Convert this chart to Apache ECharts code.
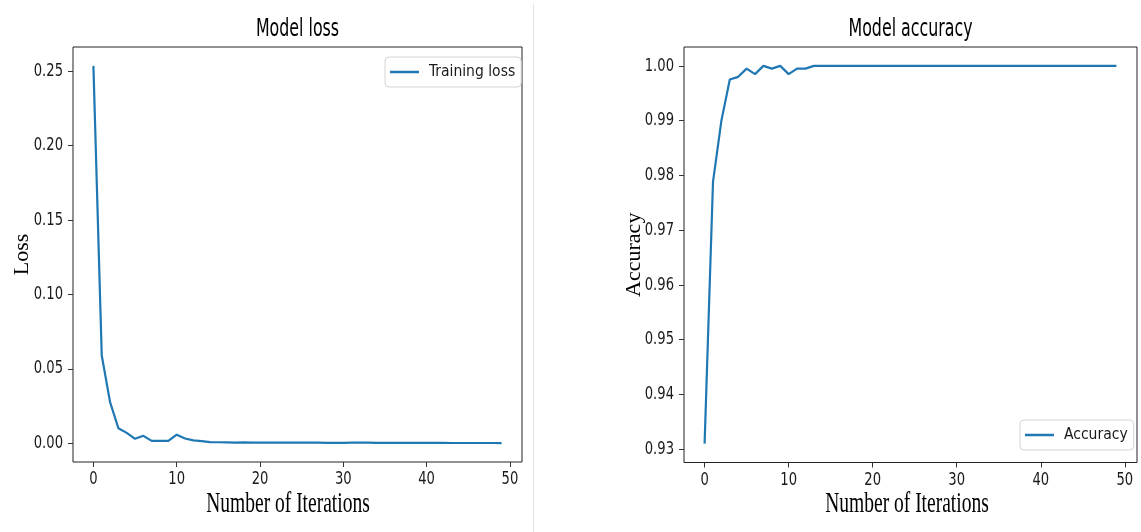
<!DOCTYPE html>
<html>
<head>
<meta charset="utf-8">
<script src="https://cdn.jsdelivr.net/npm/echarts@6/dist/echarts.min.js"></script>
<style>
  html, body { margin: 0; padding: 0; background: #fff; }
  #chart { width: 1141px; height: 532px; }
</style>
</head>
<body>
<div id="chart"></div>
<script>
// Training history over 50 iterations
const iterations = Array.from({ length: 50 }, (_, i) => i);

const trainingLoss = [
  0.2534, 0.0589, 0.0276, 0.0101, 0.0070, 0.0030, 0.0050, 0.0016, 0.0016, 0.0016,
  0.0058, 0.0032, 0.0020, 0.0015, 0.0008, 0.0007, 0.0006, 0.0005, 0.0006, 0.0005,
  0.0005, 0.0005, 0.0005, 0.0005, 0.0004, 0.0004, 0.0004, 0.0004, 0.0003, 0.0003,
  0.0003, 0.0004, 0.0005, 0.0004, 0.0003, 0.0003, 0.0003, 0.0003, 0.0003, 0.0003,
  0.0003, 0.0003, 0.0003, 0.0002, 0.0002, 0.0002, 0.0002, 0.0002, 0.0002, 0.0001
];

const accuracy = [
  0.9310, 0.9788, 0.9900, 0.9975, 0.9980, 0.9995, 0.9985, 1.0000, 0.9995, 1.0000,
  0.9985, 0.9995, 0.9995, 1.0000, 1.0000, 1.0000, 1.0000, 1.0000, 1.0000, 1.0000,
  1.0000, 1.0000, 1.0000, 1.0000, 1.0000, 1.0000, 1.0000, 1.0000, 1.0000, 1.0000,
  1.0000, 1.0000, 1.0000, 1.0000, 1.0000, 1.0000, 1.0000, 1.0000, 1.0000, 1.0000,
  1.0000, 1.0000, 1.0000, 1.0000, 1.0000, 1.0000, 1.0000, 1.0000, 1.0000, 1.0000
];

const xTicks = [0, 10, 20, 30, 40, 50];
const lossTicks = [0.00, 0.05, 0.10, 0.15, 0.20, 0.25];
const accTicks = [0.93, 0.94, 0.95, 0.96, 0.97, 0.98, 0.99, 1.00];

const BLUE = '#1f77b4';
const INK = '#1a1a1a';
const SANS = '"DejaVu Sans", sans-serif';
const SANS_NARROW = '"DejaVu Sans Condensed", "DejaVu Sans", sans-serif';
const SERIF = '"Liberation Serif", "Times New Roman", serif';

// axis range padded by 5% of the data span on each side
function padded(values, frac) {
  const lo = Math.min(...values), hi = Math.max(...values);
  const pad = (hi - lo) * frac;
  return { min: lo - pad, max: hi + pad };
}
const xRange = padded(iterations, 0.05);
const lossRange = padded(trainingLoss, 0.05);
const accRange = padded(accuracy, 0.05);

const panels = [
  { yRange: lossRange, yTicks: lossTicks },
  { yRange: accRange, yTicks: accTicks }
];

function xAxisFor(gridIndex) {
  return {
    type: 'value', gridIndex,
    min: xRange.min, max: xRange.max,
    splitLine: { show: false },
    axisLine: { show: false, onZero: false },
    axisTick: { show: true, length: 5, customValues: xTicks, lineStyle: { color: '#333', width: 1 } },
    axisLabel: { show: false }
  };
}

function yAxisFor(gridIndex, range, ticks, name, gap) {
  return {
    type: 'value', gridIndex,
    min: range.min, max: range.max,
    name, nameLocation: 'middle', nameGap: gap, nameRotate: 90,
    nameTextStyle: { fontFamily: SERIF, fontSize: 22, color: '#000' },
    splitLine: { show: false },
    axisLine: { show: false, onZero: false },
    axisTick: { show: true, length: 5, customValues: ticks, lineStyle: { color: '#333', width: 1 } },
    axisLabel: { show: false }
  };
}

function legendAt(name, left, top) {
  return {
    data: [name], left, top, orient: 'horizontal',
    icon: 'rect', itemWidth: 29, itemHeight: 2.5,
    padding: [7, 6, 7, 5],
    backgroundColor: 'rgba(255,255,255,0.8)',
    borderColor: '#d4d4d4', borderWidth: 1, borderRadius: 4,
    textStyle: { fontSize: 15.5, fontFamily: SANS_NARROW, color: INK, padding: [0, 0, 0, 5] }
  };
}

// horizontally squeezed text drawn with the graphic component
function squeezedText(text, x, y, size, family, sx, align, color) {
  return {
    type: 'text', x, y, scaleX: sx, silent: true,
    style: {
      text, fontSize: size, fontFamily: family, fill: color || '#000',
      textAlign: align || 'center', textVerticalAlign: 'middle',
      align: align || 'center', verticalAlign: 'middle'
    }
  };
}

const chart = echarts.init(document.getElementById('chart'), null, { renderer: 'canvas' });

const baseGraphics = [
  { type: 'line', silent: true, shape: { x1: 533.5, y1: 4, x2: 533.5, y2: 532 }, style: { stroke: '#e4e4e4', lineWidth: 1 } },
  squeezedText('Model loss', 297.5, 29.5, 24, SANS, 0.66),
  squeezedText('Model accuracy', 910.5, 29.5, 24, SANS, 0.66),
  squeezedText('Number of Iterations', 288, 504, 30, SERIF, 0.65),
  squeezedText('Number of Iterations', 907, 504, 30, SERIF, 0.65)
];

chart.setOption({
  animation: false,
  backgroundColor: '#fff',
  grid: [
    { left: 73, top: 47, width: 449, height: 415, show: true, borderColor: '#222', borderWidth: 1, backgroundColor: 'transparent' },
    { left: 684, top: 47, width: 453, height: 415.5, show: true, borderColor: '#222', borderWidth: 1, backgroundColor: 'transparent' }
  ],
  xAxis: [xAxisFor(0), xAxisFor(1)],
  yAxis: [
    yAxisFor(0, lossRange, lossTicks, 'Loss', 40),
    yAxisFor(1, accRange, accTicks, 'Accuracy', 39)
  ],
  legend: [
    legendAt('Training loss', 385, 57),
    legendAt('Accuracy', 1020, 420)
  ],
  series: [
    {
      name: 'Training loss', type: 'line', xAxisIndex: 0, yAxisIndex: 0,
      data: iterations.map((it, i) => [it, trainingLoss[i]]),
      showSymbol: false, symbol: 'none',
      lineStyle: { color: BLUE, width: 2.2 }, itemStyle: { color: BLUE }
    },
    {
      name: 'Accuracy', type: 'line', xAxisIndex: 1, yAxisIndex: 1,
      data: iterations.map((it, i) => [it, accuracy[i]]),
      showSymbol: false, symbol: 'none',
      lineStyle: { color: BLUE, width: 2.2 }, itemStyle: { color: BLUE }
    }
  ],
  graphic: baseGraphics
});

// Tick labels, placed through each grid's own coordinate system
const tickLabels = [];
panels.forEach((p, k) => {
  xTicks.forEach(v => {
    const pt = chart.convertToPixel({ gridIndex: k }, [v, p.yRange.min]);
    tickLabels.push(squeezedText(String(v), pt[0], pt[1] + 17.5, 18, SANS, 0.73, 'center', INK));
  });
  p.yTicks.forEach(v => {
    const pt = chart.convertToPixel({ gridIndex: k }, [xRange.min, v]);
    tickLabels.push(squeezedText(v.toFixed(2), pt[0] - 10, pt[1], 18, SANS, 0.73, 'right', INK));
  });
});

chart.setOption({ graphic: baseGraphics.concat(tickLabels) });
</script>
</body>
</html>
